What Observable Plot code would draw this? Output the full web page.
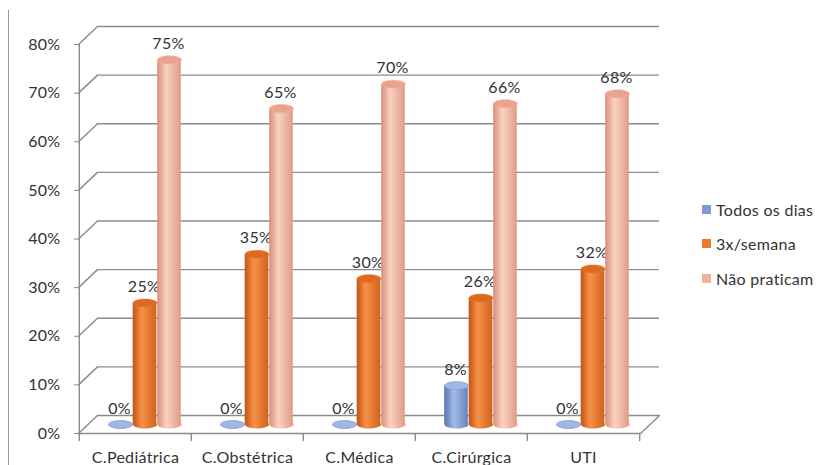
<!DOCTYPE html>
<html><head><meta charset="utf-8">
<script src="https://cdn.jsdelivr.net/npm/d3@7"></script>
<script src="https://cdn.jsdelivr.net/npm/@observablehq/plot@0.6"></script>
<style>
body{margin:0;background:#fff;font-family:Lato,"Open Sans",sans-serif;}
#wrap{position:relative;width:835px;height:465px;overflow:hidden;background:#fff;}
#edge{position:absolute;left:8px;top:10px;width:0;height:470px;border-left:1.5px solid #9a9a9a;}
#legend{position:absolute;left:702px;top:192px;font-size:16px;color:#333;font-family:Lato,sans-serif;letter-spacing:0.3px;}
#legend .row{height:34.5px;display:flex;align-items:center;}
#legend .sw{width:9px;height:9px;margin-right:5px;}
</style></head><body><div id="wrap"><div id="edge"></div></div>
<script>
const categories = ["C.Pediátrica", "C.Obstétrica", "C.Médica", "C.Cirúrgica", "UTI"];
const seriesNames = ["Todos os dias", "3x/semana", "Não praticam"];
const todosOsDias = [0, 0, 0, 0.08, 0];
const tresPorSemana = [0.25, 0.35, 0.30, 0.26, 0.32];
const naoPraticam = [0.75, 0.65, 0.70, 0.66, 0.68];
const yTicks = [0, 0.1, 0.2, 0.3, 0.4, 0.5, 0.6, 0.7, 0.8];

const seriesValues = [todosOsDias, tresPorSemana, naoPraticam];
const swatch = ["#7b9bd3", "#ee7a2b", "#f2b09c"];
const topFill = ["#9fb7e4", "#dc6a20", "#eaa48e"];
const gradIds = ["gBlue", "gOrange", "gPink"];

const W = 835, H = 465;
const mL = 78, mR = 195, mT = 44, mB = 32;
const bw = (W - mL - mR) / categories.length;
const DX = 9.5, DY = -9;      // mid depth offset
const BX = 19, BY = -18;      // back wall offset
const barW = 24, step = 24.5;
const grid = "#8c8c8c";
const txt = "#333";

const ellipse = (rx, ry) => ({
  draw(ctx) {
    const k = 0.5523;
    ctx.moveTo(-rx, 0);
    ctx.bezierCurveTo(-rx, -ry * k, -rx * k, -ry, 0, -ry);
    ctx.bezierCurveTo(rx * k, -ry, rx, -ry * k, rx, 0);
    ctx.bezierCurveTo(rx, ry * k, rx * k, ry, 0, ry);
    ctx.bezierCurveTo(-rx * k, ry, -rx, ry * k, -rx, 0);
    ctx.closePath();
  }
});
const lineShape = {draw(ctx, l) { ctx.moveTo(0, 0); ctx.lineTo(0, -l); }};
const diagLen = Math.hypot(BX, BY), diagRot = Math.atan2(BX, -BY) * 180 / Math.PI;

const marks = [];
marks.push(Plot.ruleY(yTicks, {y: d => d, dx: BX, dy: BY, stroke: grid, strokeWidth: 1.4}));
marks.push(Plot.vector(yTicks, {y: d => d, frameAnchor: "left", length: diagLen, rotate: diagRot, anchor: "start", shape: lineShape, stroke: grid, strokeWidth: 1.4}));
marks.push(Plot.vector([0], {y: d => d, frameAnchor: "right", length: diagLen, rotate: diagRot, anchor: "start", shape: lineShape, stroke: grid, strokeWidth: 1.4}));
marks.push(Plot.ruleY([0], {stroke: grid, strokeWidth: 1.4}));
marks.push(Plot.ruleX([categories[0]], {dx: -bw / 2, y1: 0, y2: 0.8, stroke: grid, strokeWidth: 1.4}));
marks.push(Plot.vector(categories, {x: d => d, dx: -bw / 2, frameAnchor: "bottom", length: 7, rotate: 180, anchor: "start", shape: lineShape, stroke: grid, strokeWidth: 1.4}));
marks.push(Plot.vector([categories[categories.length - 1]], {x: d => d, dx: bw / 2, frameAnchor: "bottom", length: 7, rotate: 180, anchor: "start", shape: lineShape, stroke: grid, strokeWidth: 1.4}));

seriesValues.forEach((vals, s) => {
  const rows = categories.map((c, i) => ({category: c, value: vals[i]}));
  const off = (s - 1) * step;
  const insetLeft = bw / 2 + off - barW / 2;
  const insetRight = bw - insetLeft - barW;
  marks.push(Plot.dot(rows, {x: "category", y: 0, dx: DX + off, dy: DY, symbol: ellipse(barW / 2, 4), fill: `url(#${gradIds[s]})`, r: 3}));
  marks.push(Plot.barY(rows, {x: "category", y: "value", dx: DX, dy: DY, insetLeft, insetRight, fill: `url(#${gradIds[s]})`}));
  marks.push(Plot.dot(rows, {x: "category", y: "value", dx: DX + off, dy: DY, symbol: ellipse(barW / 2, 4), fill: topFill[s], stroke: swatch[s], strokeWidth: 0.5, r: 3}));
  marks.push(Plot.text(rows, {x: "category", y: "value", dx: DX + off - 1, dy: DY - 16, text: d => d3.format(".0%")(d.value), fontSize: 16, fill: txt}));
});

marks.push(Plot.axisY(yTicks, {tickFormat: d3.format(".0%"), tickSize: 4, tickPadding: 14, fontSize: 16, label: null, stroke: grid, fill: txt}));
marks.push(Plot.axisX({tickSize: 0, tickPadding: 18, fontSize: 16, label: null, fill: txt}));

const svg = Plot.plot({
  width: W, height: H,
  marginLeft: mL, marginRight: mR, marginTop: mT, marginBottom: mB,
  style: {fontFamily: "Lato, sans-serif", color: txt, background: "transparent", overflow: "visible", letterSpacing: "0.3px"},
  x: {domain: categories, padding: 0},
  y: {domain: [0, 0.8], range: [H - mB, mT]},
  marks
});

d3.select(svg).insert("defs", ":first-child").html(`
<linearGradient id="gBlue" x1="0" x2="1" y1="0" y2="0">
 <stop offset="0" stop-color="#5375b2"/><stop offset="0.4" stop-color="#a3bbe6"/><stop offset="1" stop-color="#6383c0"/>
</linearGradient>
<linearGradient id="gOrange" x1="0" x2="1" y1="0" y2="0">
 <stop offset="0" stop-color="#c2540f"/><stop offset="0.38" stop-color="#f7924a"/><stop offset="1" stop-color="#d0631a"/>
</linearGradient>
<linearGradient id="gPink" x1="0" x2="1" y1="0" y2="0">
 <stop offset="0" stop-color="#d68e78"/><stop offset="0.38" stop-color="#fbd2c2"/><stop offset="1" stop-color="#de9c87"/>
</linearGradient>`);

const wrap = document.getElementById("wrap");
wrap.appendChild(svg);
svg.style.position = "absolute";
svg.style.left = "0";
svg.style.top = "0";

const legend = document.createElement("div");
legend.id = "legend";
seriesNames.forEach((n, s) => {
  const row = document.createElement("div");
  row.className = "row";
  const sw = document.createElement("span");
  sw.className = "sw";
  sw.style.background = swatch[s];
  const t = document.createElement("span");
  t.textContent = n;
  row.appendChild(sw); row.appendChild(t);
  legend.appendChild(row);
});
wrap.appendChild(legend);
</script>
</body></html>
